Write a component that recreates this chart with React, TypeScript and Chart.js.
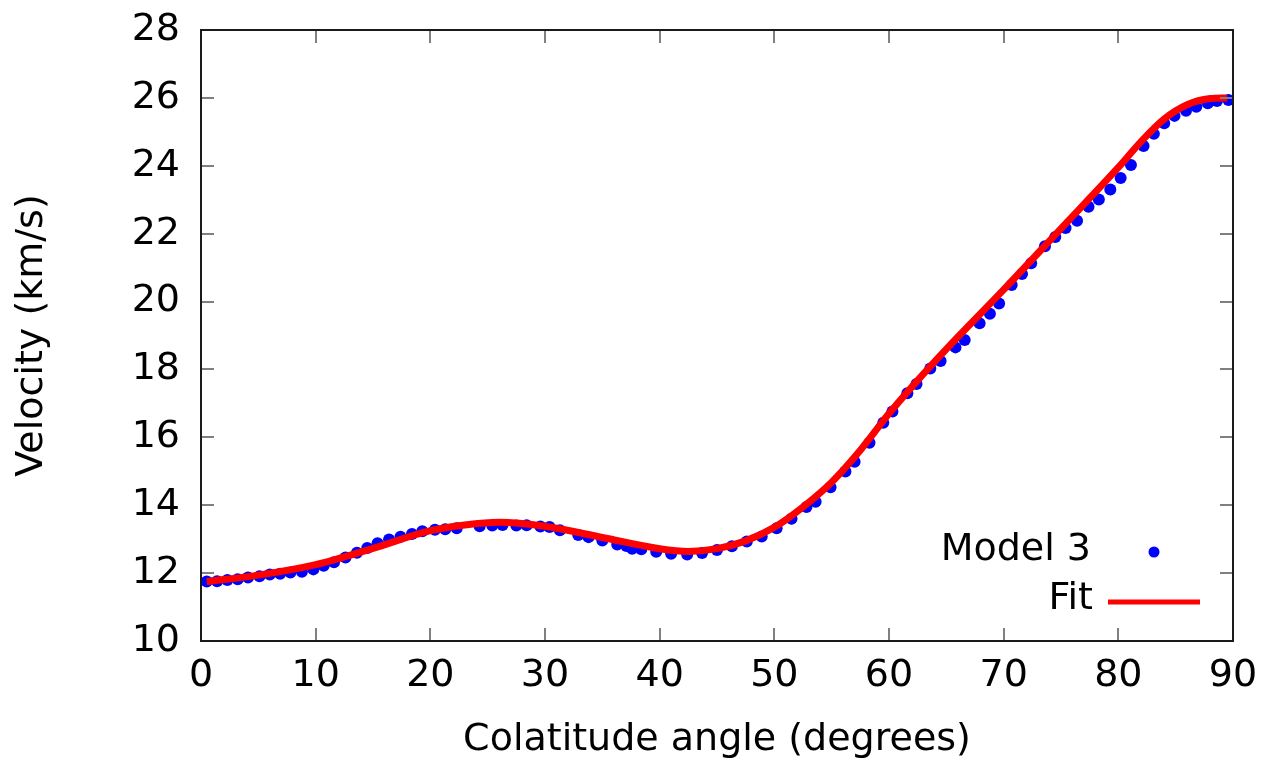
import React, { useEffect, useRef } from "react";
import { Chart, registerables } from "chart.js";

Chart.register(...registerables);

const modelX = [
  0.5, 1.4, 2.3, 3.2, 4.1, 5.1, 6.0, 6.9, 7.8, 8.8, 9.8, 10.7, 11.6, 12.6, 13.6, 14.5, 15.4, 16.4, 17.4, 18.4,
  19.3, 20.4, 21.3, 22.3, 24.3, 25.4, 26.3, 27.5, 28.4, 29.6, 30.4, 31.3, 32.9, 33.8, 35.0, 36.3, 37.1, 37.6,
  38.4, 39.7, 41.0, 42.4, 43.7, 45.0, 46.3, 47.6, 48.9, 50.2, 51.5, 52.8, 53.6, 54.9, 56.2, 57.0, 58.3, 59.5,
  60.3, 61.6, 62.4, 63.6, 64.5, 65.8, 66.6, 67.9, 68.8, 69.6, 70.7, 71.6, 72.4, 73.6, 74.5, 75.4, 76.4, 77.4,
  78.3, 79.3, 80.2, 81.1, 82.2, 83.1, 84.0, 84.9, 85.9, 86.8, 87.8, 88.6, 89.6,
];
const modelY = [
  11.75, 11.76, 11.8, 11.82, 11.87, 11.91, 11.96, 11.98, 12.02, 12.04, 12.11, 12.22, 12.32, 12.46, 12.6, 12.74,
  12.88, 12.99, 13.07, 13.15, 13.23, 13.28, 13.29, 13.32, 13.38, 13.4, 13.42, 13.4, 13.41, 13.37, 13.36, 13.26,
  13.12, 13.06, 12.96, 12.84, 12.8, 12.72, 12.7, 12.63, 12.57, 12.55, 12.59, 12.68, 12.79, 12.93, 13.08, 13.32,
  13.6, 13.95, 14.1, 14.53, 14.99, 15.28, 15.84, 16.43, 16.76, 17.3, 17.57, 18.03, 18.25, 18.65, 18.87, 19.36,
  19.64, 19.94, 20.49, 20.81, 21.13, 21.63, 21.9, 22.17, 22.38, 22.79, 23.01, 23.3, 23.64, 24.02, 24.58, 24.94,
  25.25, 25.47, 25.62, 25.74, 25.84, 25.91, 25.94,
];

const fitX = [
  0.5, 5, 10, 15, 20, 23, 26, 30, 35, 40, 42.5, 45, 47.5, 50, 52.5, 55, 57.5, 60, 62.5, 65, 70, 75, 80, 82, 84,
  86, 88, 89.5,
];
const fitY = [
  11.75, 11.94, 12.25, 12.73, 13.25, 13.42, 13.5, 13.38, 13.05, 12.72, 12.64, 12.72, 12.95, 13.35, 13.95,
  14.68, 15.62, 16.7, 17.68, 18.6, 20.35, 22.15, 23.95, 24.72, 25.38, 25.8, 25.98, 26.0,
];

const xTicks = [0, 10, 20, 30, 40, 50, 60, 70, 80, 90];
const yTicks = [10, 12, 14, 16, 18, 20, 22, 24, 26, 28];

const xTitle = "Colatitude angle (degrees)";
const yTitle = "Velocity (km/s)";
const modelLabel = "Model 3";
const fitLabel = "Fit";

const FONT = "'DejaVu Sans', 'Liberation Sans', sans-serif";
const FS = 38;

const framePlugin = {
  id: "framePlugin",
  afterDatasetsDraw(chart: any) {
    const { ctx, chartArea, scales } = chart;
    const { left, right, top, bottom } = chartArea;
    const xs = scales.x;
    const ys = scales.y;
    const tl = 13;
    ctx.save();
    ctx.strokeStyle = "#808080";
    ctx.lineWidth = 2;
    ctx.beginPath();
    xTicks.forEach((v) => {
      const px = Math.round(xs.getPixelForValue(v));
      if (v === 0 || v === 90) return;
      ctx.moveTo(px, bottom);
      ctx.lineTo(px, bottom - tl);
      ctx.moveTo(px, top);
      ctx.lineTo(px, top + tl);
    });
    yTicks.forEach((v) => {
      const py = Math.round(ys.getPixelForValue(v));
      if (v === 10 || v === 28) return;
      ctx.moveTo(left, py);
      ctx.lineTo(left + tl, py);
      ctx.moveTo(right, py);
      ctx.lineTo(right - tl, py);
    });
    ctx.stroke();
    ctx.strokeStyle = "#1a1a1a";
    ctx.lineWidth = 2;
    ctx.strokeRect(left, top, right - left, bottom - top);

    // legend (gnuplot style: text on the left, sample on the right)
    const ds0 = chart.data.datasets[1];
    const ds1 = chart.data.datasets[0];
    ctx.font = `${FS}px ${FONT}`;
    ctx.fillStyle = "#000";
    ctx.textAlign = "right";
    ctx.textBaseline = "middle";
    ctx.fillText(ds0.label, 1091, 550);
    ctx.fillText(ds1.label, 1093, 599);
    ctx.fillStyle = ds0.backgroundColor;
    ctx.beginPath();
    ctx.arc(1154, 552, 5.5, 0, Math.PI * 2);
    ctx.fill();
    ctx.strokeStyle = ds1.borderColor;
    ctx.lineWidth = 5;
    ctx.beginPath();
    ctx.moveTo(1108, 602);
    ctx.lineTo(1200, 602);
    ctx.stroke();
    ctx.restore();
  },
};

export default function App() {
  const ref = useRef<HTMLCanvasElement | null>(null);
  useEffect(() => {
    if (!ref.current) return;
    const chart = new Chart(ref.current, {
      type: "scatter",
      data: {
        datasets: [
          {
            label: fitLabel,
            data: fitX.map((x, i) => ({ x, y: fitY[i] })),
            showLine: true,
            borderColor: "#ff0000",
            backgroundColor: "#ff0000",
            borderWidth: 7,
            pointRadius: 0,
            cubicInterpolationMode: "monotone",
            order: 0,
          } as any,
          {
            label: modelLabel,
            data: modelX.map((x, i) => ({ x, y: modelY[i] })),
            backgroundColor: "#0000ff",
            borderColor: "#0000ff",
            borderWidth: 0,
            pointRadius: 6,
            order: 1,
          },
        ],
      },
      options: {
        responsive: false,
        animation: false,
        layout: { padding: { left: 0, top: 30, right: 43, bottom: 0 } },
        plugins: { legend: { display: false }, tooltip: { enabled: false } },
        scales: {
          x: {
            type: "linear",
            min: 0,
            max: 90,
            afterFit: (s: any) => {
              s.height = 122;
              s.paddingLeft = 0;
              s.paddingRight = 0;
            },
            afterBuildTicks: (s: any) => {
              s.ticks = xTicks.map((v) => ({ value: v }));
            },
            grid: { display: false, drawTicks: false },
            border: { display: false },
            ticks: {
              padding: 12,
              color: "#000",
              font: { family: FONT, size: FS },
              maxRotation: 0,
              autoSkip: false,
            },
            title: {
              display: true,
              text: xTitle,
              color: "#000",
              font: { family: FONT, size: FS, lineHeight: 1.2 },
              padding: { top: 0, bottom: 0 },
            },
          },
          y: {
            type: "linear",
            min: 10,
            max: 28,
            afterFit: (s: any) => {
              s.width = 201;
              s.paddingTop = 0;
              s.paddingBottom = 0;
            },
            afterBuildTicks: (s: any) => {
              s.ticks = yTicks.map((v) => ({ value: v }));
            },
            grid: { display: false, drawTicks: false },
            border: { display: false },
            ticks: {
              padding: 21,
              color: "#000",
              font: { family: FONT, size: FS },
              autoSkip: false,
            },
            title: {
              display: true,
              text: yTitle,
              color: "#000",
              font: { family: FONT, size: FS, lineHeight: 1.2 },
              padding: { top: 9, bottom: 0 },
            },
          },
        },
      },
      plugins: [framePlugin],
    });
    return () => chart.destroy();
  }, []);
  return (
    <div style={{ position: "absolute", left: 0, top: 0, width: 1276, height: 763, background: "#fff" }}>
      <canvas ref={ref} width={1276} height={763} style={{ display: "block" }} />
    </div>
  );
}
